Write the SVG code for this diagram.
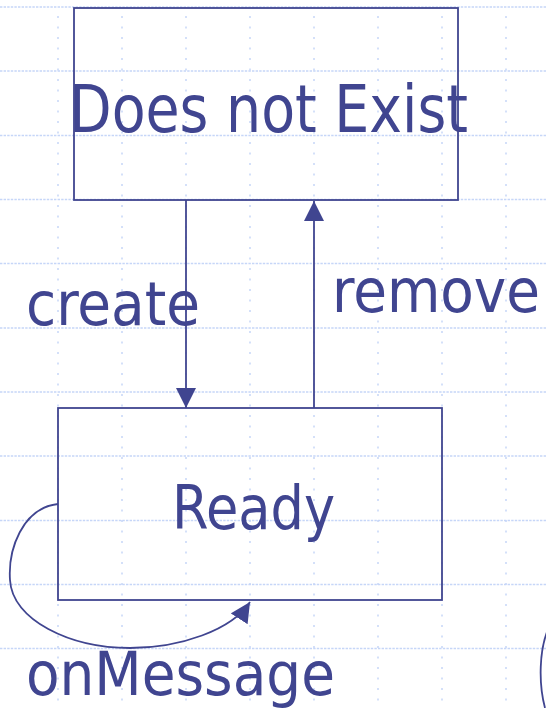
<svg xmlns="http://www.w3.org/2000/svg" width="546" height="708" viewBox="0 0 546 708">
<style>
.gh{stroke:#c6d6f8;stroke-width:1.5;stroke-dasharray:2.4 1.2;fill:none}
.gv{stroke:#c6d6f8;stroke-width:1.5;stroke-dasharray:2 8.5;fill:none}
.box{fill:none;stroke:#404590;stroke-width:1.8}
.edge{fill:none;stroke:#404590;stroke-width:1.8}
.lbl{font-family:"DejaVu Sans Condensed","DejaVu Sans",Tahoma,sans-serif;fill:#404590}
</style>
<defs>
<marker id="ah" viewBox="0 0 20 20" refX="20" refY="10" markerWidth="20" markerHeight="20" markerUnits="userSpaceOnUse" orient="auto">
<path d="M0,0 L20,10 L0,20 z" fill="#404590"/>
</marker>
</defs>
<rect width="546" height="708" fill="#ffffff"/>
<g id="grid">
<line class="gh" x1="0" y1="7" x2="546" y2="7"/>
<line class="gh" x1="0" y1="71" x2="546" y2="71"/>
<line class="gh" x1="0" y1="135.5" x2="546" y2="135.5"/>
<line class="gh" x1="0" y1="199.5" x2="546" y2="199.5"/>
<line class="gh" x1="0" y1="263.5" x2="546" y2="263.5"/>
<line class="gh" x1="0" y1="328" x2="546" y2="328"/>
<line class="gh" x1="0" y1="392" x2="546" y2="392"/>
<line class="gh" x1="0" y1="456" x2="546" y2="456"/>
<line class="gh" x1="0" y1="520.5" x2="546" y2="520.5"/>
<line class="gh" x1="0" y1="584.5" x2="546" y2="584.5"/>
<line class="gh" x1="0" y1="648.5" x2="546" y2="648.5"/>
<line class="gv" x1="58" y1="16" x2="58" y2="708"/>
<line class="gv" x1="122" y1="16" x2="122" y2="708"/>
<line class="gv" x1="186" y1="16" x2="186" y2="708"/>
<line class="gv" x1="250" y1="16" x2="250" y2="708"/>
<line class="gv" x1="314" y1="16" x2="314" y2="708"/>
<line class="gv" x1="378" y1="16" x2="378" y2="708"/>
<line class="gv" x1="442" y1="16" x2="442" y2="708"/>
<line class="gv" x1="506" y1="16" x2="506" y2="708"/>
</g>
<g id="node-does-not-exist">
<rect class="box" x="74" y="8" width="384" height="192"/>
<text class="lbl" x="69" y="132" font-size="66" textLength="399" lengthAdjust="spacingAndGlyphs">Does not Exist</text>
</g>
<g id="node-ready">
<rect class="box" x="58" y="408" width="384" height="192"/>
<text class="lbl" x="172" y="529" font-size="61" textLength="163" lengthAdjust="spacingAndGlyphs">Ready</text>
</g>
<g id="node-partial">
<path class="edge" d="M547,632 C540,650 538,682 545,708"/>
</g>
<g id="connectors">
<path class="edge" d="M186,200 L186,408" marker-end="url(#ah)"/>
<path class="edge" d="M314,408 L314,201" marker-end="url(#ah)"/>
<path class="edge" d="M58,504 C22,508 8,550 10,580 C12,620 70,648 130,648 C180,648 232,630 250,602" marker-end="url(#ah)"/>
<text class="lbl" x="26" y="325" font-size="61" textLength="174" lengthAdjust="spacingAndGlyphs">create</text>
<text class="lbl" x="332" y="312" font-size="61" textLength="208" lengthAdjust="spacingAndGlyphs">remove</text>
<text class="lbl" x="26" y="695" font-size="61" textLength="309" lengthAdjust="spacingAndGlyphs">onMessage</text>
</g>
</svg>
